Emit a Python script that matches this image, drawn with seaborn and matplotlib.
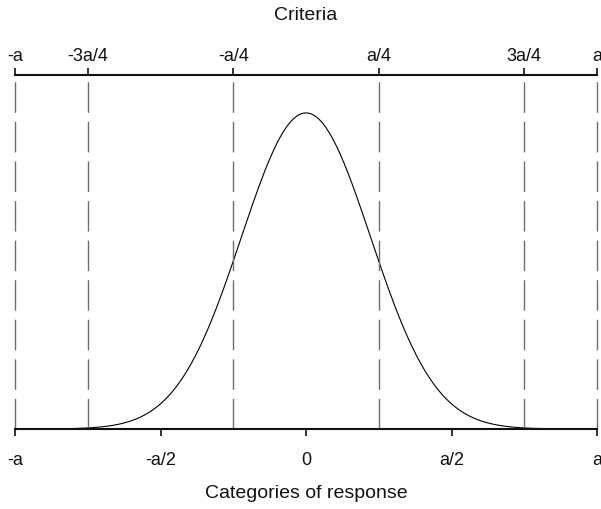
import numpy as np
import pandas as pd
import matplotlib
matplotlib.use("Agg")
import matplotlib.pyplot as plt
import seaborn as sns

# ---- data ----
a = 1.0
sigma = a / 4.5  # spread of the response distribution
criteria = [-1.0, -0.75, -0.25, 0.25, 0.75, 1.0]
criteria_labels = ["-a", "-3a/4", "-a/4", "a/4", "3a/4", "a"]
response_ticks = [-1.0, -0.5, 0.0, 0.5, 1.0]
response_labels = ["-a", "-a/2", "0", "a/2", "a"]

x = np.linspace(-a, a, 601)
density = np.exp(-0.5 * (x / sigma) ** 2)
df = pd.DataFrame({"x": x, "y": density})

sns.set_theme(style="white")
plt.rcParams["font.family"] = ["Liberation Sans", "DejaVu Sans"]

fig = plt.figure(figsize=(6.01, 5.10), dpi=100)
ax = fig.add_axes([15 / 601, 1 - 430 / 510, 582 / 601, 354 / 510])

sns.lineplot(data=df, x="x", y="y", color="black", linewidth=0.8, ax=ax)
for c in criteria:
    ax.axvline(c, color="#6e6e6e", linewidth=1.0, dashes=(22, 6.5), clip_on=False)

ax.set_xlim(-a, a)
ax.set_ylim(0, 1.12)
ax.set_yticks([])
ax.set_ylabel("")
for s in ("left", "right", "top"):
    ax.spines[s].set_visible(False)
ax.spines["bottom"].set_linewidth(1.5)
ax.spines["bottom"].set_color("#111111")

ax.set_xticks(response_ticks, response_labels)
ax.tick_params(axis="x", bottom=True, direction="out", length=5, width=1.2,
               pad=11, labelsize=13, color="#111111", labelcolor="#111111")
ax.set_xlabel("Categories of response", fontsize=14, color="#111111")
ax.xaxis.label.set_va("center")
ax.xaxis.set_label_coords(0.5, (430 - 494) / 354)

sec = ax.secondary_xaxis("top")
sec.set_xticks(criteria, criteria_labels)
sec.tick_params(axis="x", top=True, direction="out", length=5, width=1.2,
                pad=3, labelsize=13, color="#111111", labelcolor="#111111")
sec.spines["top"].set_linewidth(1.5)
sec.spines["top"].set_color("#111111")
sec.set_xlabel("Criteria", fontsize=14, color="#111111")
sec.xaxis.label.set_va("center")
sec.xaxis.set_label_coords(0.5, (430 - 15) / 354, transform=ax.transAxes)

fig.savefig("out.png", dpi=100)
